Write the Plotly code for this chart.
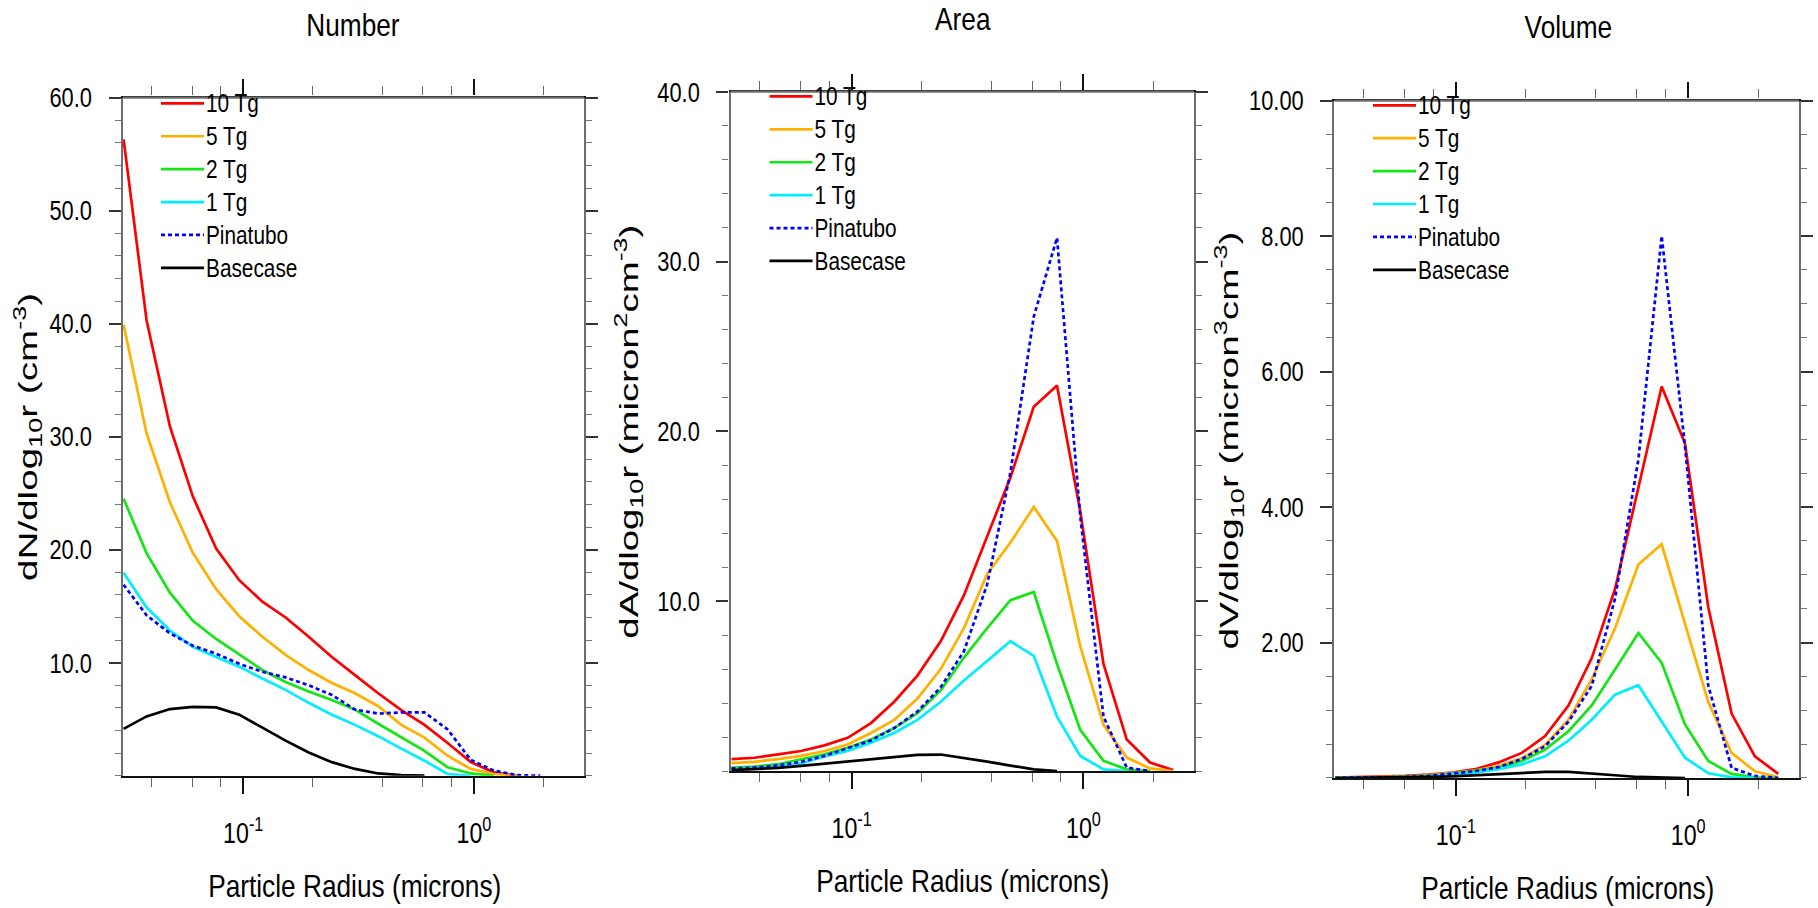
import plotly.graph_objects as go

# Particle radius bin centres (microns)
radius = [0.0303, 0.0381, 0.0481, 0.0605, 0.0763, 0.0961, 0.1211, 0.1526, 0.1922, 0.2422,
          0.3052, 0.3845, 0.4844, 0.6104, 0.769, 0.9687, 1.2205, 1.5378, 1.9375, 2.441]

series_names = ["10 Tg", "5 Tg", "2 Tg", "1 Tg", "Pinatubo", "Basecase"]
series_colors = ["#ff0000", "#ffb000", "#14e614", "#00eeff", "#0000ff", "#000000"]
series_dash = ["solid", "solid", "solid", "solid", "4px,3px", "solid"]

# dN/dlog10r (cm^-3)
num_10tg = [56.3, 40.3, 30.9, 24.7, 20.1, 17.3, 15.4, 14.0, 12.3, 10.5, 8.9, 7.3, 5.8, 4.5, 2.9, 1.2, 0.3, 0.0, None, None]
num_5tg = [39.9, 30.3, 24.2, 19.7, 16.5, 14.1, 12.3, 10.7, 9.35, 8.2, 7.3, 6.15, 4.5, 3.37, 1.77, 0.6, 0.15, 0.0, None, None]
num_2tg = [24.5, 19.7, 16.2, 13.7, 12.1, 10.7, 9.35, 8.3, 7.45, 6.7, 5.85, 4.6, 3.37, 2.2, 0.75, 0.2, 0.0, None, None, None]
num_1tg = [17.95, 14.9, 12.85, 11.4, 10.5, 9.65, 8.6, 7.6, 6.45, 5.4, 4.5, 3.5, 2.4, 1.33, 0.15, 0.0, None, None, None, None]
num_pina = [16.9, 14.2, 12.6, 11.5, 10.8, 9.9, 9.2, 8.7, 8.0, 7.15, 5.85, 5.5, 5.6, 5.6, 4.1, 1.4, 0.45, 0.05, 0.0, None]
num_base = [4.15, 5.25, 5.9, 6.1, 6.05, 5.4, 4.25, 3.1, 2.05, 1.2, 0.6, 0.2, 0.05, 0.0, None, None, None, None, None, None]

# dA/dlog10r (micron^2 cm^-3)
area_10tg = [0.7, 0.78, 0.98, 1.18, 1.51, 1.95, 2.82, 4.08, 5.62, 7.64, 10.35, 13.8, 17.3, 21.45, 22.7, 15.3, 6.3, 1.85, 0.5, 0.05]
area_5tg = [0.46, 0.54, 0.7, 0.89, 1.18, 1.56, 2.24, 3.01, 4.27, 6.0, 8.42, 11.6, 13.45, 15.55, 13.55, 7.35, 2.72, 0.79, 0.15, 0.0]
area_2tg = [0.2, 0.26, 0.4, 0.7, 0.98, 1.37, 1.85, 2.53, 3.4, 4.75, 6.68, 8.42, 10.06, 10.54, 6.3, 2.43, 0.6, 0.1, 0.0, None]
area_1tg = [0.12, 0.15, 0.26, 0.45, 0.85, 1.18, 1.66, 2.24, 3.01, 4.08, 5.33, 6.49, 7.64, 6.78, 3.2, 0.89, 0.1, 0.0, None, None]
area_pina = [0.15, 0.2, 0.33, 0.54, 0.89, 1.33, 1.8, 2.53, 3.5, 4.93, 7.06, 11.0, 17.6, 26.75, 31.4, 15.0, 3.2, 0.2, 0.0, None]
area_base = [0.05, 0.1, 0.18, 0.3, 0.43, 0.57, 0.7, 0.83, 0.95, 0.97, 0.78, 0.55, 0.32, 0.1, 0.0, None, None, None, None, None]

# dV/dlog10r (micron^3 cm^-3)
vol_10tg = [0.005, 0.01, 0.02, 0.03, 0.05, 0.08, 0.13, 0.23, 0.37, 0.62, 1.07, 1.77, 2.79, 4.31, 5.78, 4.94, 2.52, 0.95, 0.32, 0.06]
vol_5tg = [0.003, 0.006, 0.01, 0.02, 0.04, 0.07, 0.11, 0.18, 0.29, 0.49, 0.86, 1.46, 2.21, 3.15, 3.45, 2.28, 1.12, 0.37, 0.1, 0.01]
vol_2tg = [0.002, 0.004, 0.008, 0.02, 0.03, 0.06, 0.1, 0.15, 0.25, 0.42, 0.69, 1.07, 1.6, 2.14, 1.7, 0.79, 0.25, 0.06, 0.01, 0.0]
vol_1tg = [0.001, 0.003, 0.006, 0.012, 0.025, 0.05, 0.08, 0.13, 0.2, 0.32, 0.55, 0.86, 1.23, 1.37, 0.83, 0.3, 0.07, 0.01, 0.0, None]
vol_pina = [0.002, 0.004, 0.008, 0.015, 0.03, 0.06, 0.1, 0.16, 0.28, 0.47, 0.83, 1.36, 2.65, 4.7, 8.0, 4.9, 1.36, 0.15, 0.03, 0.0]
vol_base = [0.0, 0.002, 0.004, 0.008, 0.015, 0.025, 0.04, 0.06, 0.08, 0.09, 0.09, 0.07, 0.04, 0.015, 0.003, 0.0, None, None, None, None]

panels = [
    dict(title="Number", data=[num_10tg, num_5tg, num_2tg, num_1tg, num_pina, num_base],
         ytitle="dN/dlog<sub>10</sub>r (cm<sup>-3</sup>)",
         ymax=60, ymajor=[10, 20, 30, 40, 50, 60], yfmt=".1f", yminor=2),
    dict(title="Area", data=[area_10tg, area_5tg, area_2tg, area_1tg, area_pina, area_base],
         ytitle="dA/dlog<sub>10</sub>r (micron<sup>2</sup>cm<sup>-3</sup>)",
         ymax=40, ymajor=[10, 20, 30, 40], yfmt=".1f", yminor=2),
    dict(title="Volume", data=[vol_10tg, vol_5tg, vol_2tg, vol_1tg, vol_pina, vol_base],
         ytitle="dV/dlog<sub>10</sub>r (micron<sup>3</sup>cm<sup>-3</sup>)",
         ymax=10, ymajor=[2, 4, 6, 8, 10], yfmt=".2f", yminor=0.5),
]

W, H = 1818, 908
# plot-area boxes in pixels: left, right, top, bottom
boxes = [(122.6, 584.0, 84.0, 773.5), (730.5, 1194.0, 78.0, 768.7), (1334.4, 1799.0, 87.0, 775.8)]
title_pos = [(353, 10), (963, 4), (1568, 12)]
xtitle_pos = [(354, 886), (962, 881), (1567, 888)]
ytitle_pos = [(28, 429), (629, 424), (1229, 433)]
ytitle_len = [288, 414, 418]
legend_pos = [(156, 68), (764.5, 61), (1368, 70)]

FONT = "Liberation Sans, Arial, sans-serif"
FRAME = "#6e6e6e"

x_minor = [0.04, 0.06, 0.08, 0.2, 0.4, 0.6, 0.8, 2]

fig = go.Figure()
layout = dict(width=W, height=H, margin=dict(l=0, r=0, t=0, b=0),
              paper_bgcolor="white", plot_bgcolor="white", annotations=[], shapes=[])

for i, p in enumerate(panels):
    k = "" if i == 0 else str(i + 1)
    lg = "legend" + k
    for name, color, dash, vals in zip(series_names, series_colors, series_dash, p["data"]):
        fig.add_trace(go.Scatter(
            x=radius, y=vals, mode="lines", name=name,
            line=dict(color=color, width=2.7, dash=dash),
            xaxis="x" + k, yaxis="y" + k, legend=lg, connectgaps=False,
        ))
    l, r, t, b = boxes[i]
    layout["xaxis" + k] = dict(
        type="log", range=[-1.5229, 0.4771], domain=[l / W, r / W], anchor="y" + k,
        showline=True, linecolor="#111111", linewidth=2.4, mirror="ticks",
        ticks="outside", ticklen=16, tickwidth=1.6, tickcolor="#111",
        tickvals=[0.1, 1], ticktext=["10<sup>-1</sup>", "10<sup>0</sup>"],
        ticklabelstandoff=14,
        minor=dict(tickvals=x_minor, ticks="outside", ticklen=9, tickwidth=1.2, tickcolor="#666", showgrid=False),
        showgrid=False, zeroline=False,
        tickfont=dict(family=FONT, size=29, color="black"),
    )
    layout["yaxis" + k] = dict(
        range=[0, p["ymax"]], domain=[1 - b / H, 1 - t / H], anchor="x" + k,
        showline=True, linecolor=FRAME, linewidth=2.2, mirror="allticks",
        ticks="outside", ticklen=12, tickwidth=1.8, tickcolor="#333",
        tickvals=p["ymajor"], tickformat=p["yfmt"], ticklabelstandoff=11,
        minor=dict(dtick=p["yminor"], ticks="outside", ticklen=6, tickwidth=1.2, tickcolor="#777", showgrid=False),
        showgrid=False, zeroline=False,
        tickfont=dict(family=FONT, size=28, color="black"),
    )
    # grey upper frame edge
    layout["shapes"].append(dict(
        type="line", xref="paper", yref="paper", x0=l / W, x1=r / W, y0=1 - t / H, y1=1 - t / H,
        line=dict(color=FRAME, width=2.2), layer="above"))
    lx, ly = legend_pos[i]
    layout[lg] = dict(
        x=lx / W, y=1 - ly / H, xanchor="left", yanchor="top",
        bgcolor="rgba(0,0,0,0)", borderwidth=0, tracegroupgap=0,
        font=dict(family=FONT, size=23, color="black"), itemwidth=40,
    )
    tx, ty = title_pos[i]
    layout["annotations"].append(dict(
        text=p["title"], x=tx / W, y=1 - ty / H, xref="paper", yref="paper",
        showarrow=False, xanchor="center", yanchor="middle",
        font=dict(family=FONT, size=32, color="black")))
    xx, xy = xtitle_pos[i]
    layout["annotations"].append(dict(
        text="Particle Radius (microns)", x=xx / W, y=1 - xy / H, xref="paper", yref="paper",
        showarrow=False, xanchor="center", yanchor="middle",
        font=dict(family=FONT, size=32, color="black")))
    yx, yy = ytitle_pos[i]
    layout["annotations"].append(dict(
        text=p["ytitle"], x=yx / W, y=1 - yy / H, xref="paper", yref="paper",
        showarrow=False, xanchor="center", yanchor="middle", textangle=-90,
        font=dict(family=FONT, size=26, color="black")))

fig.update_layout(**layout)

# Narrow the horizontal lettering, stretch the rotated axis titles along their
# length, and lengthen the legend line samples so they run into their labels.
post_js = """
var gd = document.getElementById('{plot_id}');
var ylen = %s;
function fit(el, len) {
  if (el.getAttribute('data-fit')) { return; }
  var b0 = el.getBBox();
  if (!(b0.width > 0)) { return; }
  var anchor = el.getAttribute('text-anchor') || window.getComputedStyle(el).textAnchor || 'start';
  el.setAttribute('textLength', len.toFixed(1));
  el.setAttribute('lengthAdjust', 'spacingAndGlyphs');
  el.setAttribute('data-fit', '1');
  var b1 = el.getBBox();
  var dx;
  if (anchor === 'end') { dx = (b0.x + b0.width) - (b1.x + b1.width); }
  else if (anchor === 'middle') { dx = (b0.x + b0.width / 2) - (b1.x + b1.width / 2); }
  else { dx = b0.x - b1.x; }
  if (Math.abs(dx) > 0.3) {
    var x = parseFloat(el.getAttribute('x') || '0');
    el.setAttribute('x', (x + dx).toFixed(2));
  }
}
function squash(el, f) {
  if (el.getAttribute('data-fit')) { return; }
  var w = el.getComputedTextLength();
  if (w > 0) { fit(el, w * f); }
}
function narrow(el, f) {
  if (el.getAttribute('data-fit')) { return; }
  var b = el.getBBox();
  if (!(b.width > 0)) { return; }
  var cx = b.x + b.width / 2;
  var tr = el.getAttribute('transform') || '';
  el.setAttribute('transform', tr + ' translate(' + cx + ',0) scale(' + f + ',1) translate(' + (-cx) + ',0)');
  el.setAttribute('data-fit', '1');
}
function restyleText() {
  gd.querySelectorAll('.ytick text, .y2tick text, .y3tick text').forEach(function (el) { squash(el, 0.78); });
  gd.querySelectorAll('.xtick text, .x2tick text, .x3tick text').forEach(function (el) { narrow(el, 0.8); });
  gd.querySelectorAll('g.legend text, g.legend2 text, g.legend3 text, .legendtext, .legend2text, .legend3text')
    .forEach(function (el) {
      if (!el.getAttribute('data-fit')) { el.style.fontSize = '26px'; }
      squash(el, 0.8);
    });
  gd.querySelectorAll('.legendlines path').forEach(function (el) { el.setAttribute('d', 'M5,0h43'); });
  gd.querySelectorAll('.annotation').forEach(function (a) {
    var idx = parseInt(a.getAttribute('data-index'), 10);
    var el = a.querySelector('text');
    if (!el) { return; }
    if (idx %% 3 === 2) { fit(el, ylen[(idx - 2) / 3]); }
    else { squash(el, 0.82); }
  });
}
restyleText();
if (gd.on) { gd.on('plotly_afterplot', restyleText); }
[0, 60, 250, 700].forEach(function (t) { setTimeout(restyleText, t); });
""" % str(ytitle_len)

fig.write_html("out.html", post_script=post_js)
